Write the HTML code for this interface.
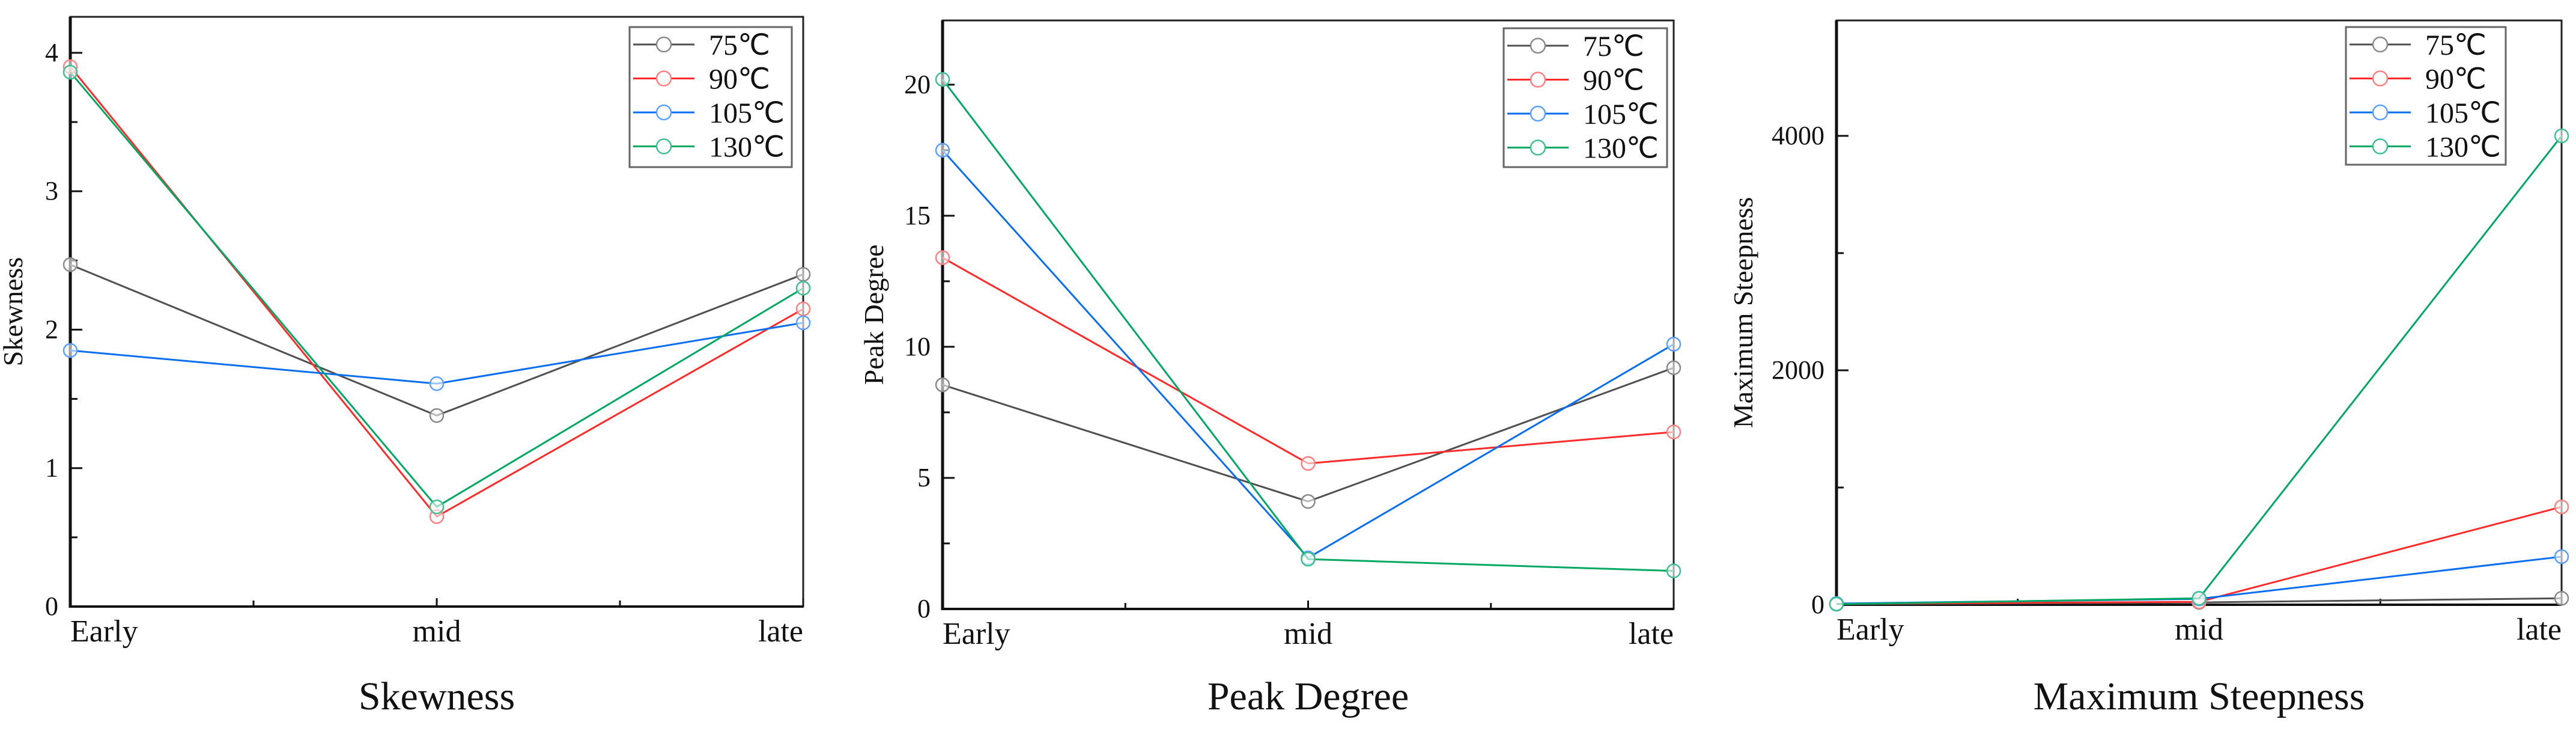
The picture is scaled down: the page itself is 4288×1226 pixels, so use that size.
<!DOCTYPE html>
<html><head><meta charset="utf-8">
<style>
html,body{margin:0;padding:0;background:#fff;}
svg{display:block;}
text{font-family:"Liberation Serif",serif;fill:#111;}
</style></head>
<body>
<svg id="fig" width="4288" height="1226" viewBox="0 0 4288 1226" xmlns="http://www.w3.org/2000/svg"></svg>
<script>
const categories = ["Early","mid","late"];
const seriesNames = ["75℃","90℃","105℃","130℃"];
const skew75 = [2.47, 1.38, 2.40];
const skew90 = [3.90, 0.65, 2.15];
const skew105 = [1.85, 1.61, 2.05];
const skew130 = [3.86, 0.72, 2.30];
const peak75 = [8.55, 4.1, 9.2];
const peak90 = [13.4, 5.55, 6.75];
const peak105 = [17.5, 1.95, 10.1];
const peak130 = [20.2, 1.9, 1.45];
const steep75 = [5, 20, 55];
const steep90 = [8, 25, 835];
const steep105 = [10, 50, 410];
const steep130 = [5, 55, 4000];
const skewTicks = [0,1,2,3,4];
const peakTicks = [0,5,10,15,20];
const steepTicks = [0,2000,4000];

const colors = ["#505050","#ff2a2a","#0a6ef0","#00a862"];
const markerColors = ["#8a8a8a","#ff8080","#5aa0ff","#40c090"];
const NS = "http://www.w3.org/2000/svg";
const svg = document.getElementById("fig");
function el(tag, attrs, parent){
  const e = document.createElementNS(NS, tag);
  for (const k in attrs) e.setAttribute(k, attrs[k]);
  (parent||svg).appendChild(e);
  return e;
}
const charts = [
  {key:"skewness", title:"Skewness", ytitle:"Skewness", L:117, R:1337, T:28, B:1009, ymax:4.26, ticks:skewTicks, minor:0.5, tOff:80,
   series:[skew75,skew90,skew105,skew130], leg:{x:1048,y:45,w:270,h:233}},
  {key:"peak-degree", title:"Peak Degree", ytitle:"Peak Degree", L:1569, R:2786, T:34, B:1013, ymax:22.45, ticks:peakTicks, minor:2.5, tOff:99,
   series:[peak75,peak90,peak105,peak130], leg:{x:2503,y:47,w:272,h:231}},
  {key:"maximum-steepness", title:"Maximum Steepness", ytitle:"Maximum Steepness", L:3057, R:4264, T:34, B:1006, ymax:4985, ticks:steepTicks, minor:1000, tOff:140,
   series:[steep75,steep90,steep105,steep130], leg:{x:3905,y:45,w:266,h:229}}
];
charts.forEach(c=>{
  const g = el("g",{});
  
  
  const xs = i => c.L + (c.R-c.L)*i/(categories.length-1);
  const ys = v => c.B - (c.B-c.T)*v/c.ymax;
  const fr = el("rect",{x:c.L,y:c.T,width:c.R-c.L,height:c.B-c.T,fill:"none",stroke:"#222","stroke-width":3},g);
  
  
  el("line",{x1:c.L,y1:c.T,x2:c.L,y2:c.B+2,stroke:"#111","stroke-width":5},g);
  el("line",{x1:c.L-2,y1:c.B,x2:c.R,y2:c.B,stroke:"#111","stroke-width":4},g);
  for (let v=0; v<=c.ymax+1e-9; v+=c.minor){
    const major = c.ticks.some(t=>Math.abs(t-v)<1e-9);
    el("line",{x1:c.L,y1:ys(v),x2:c.L+(major?20:12),y2:ys(v),stroke:"#111","stroke-width":3},g);
  }
  c.ticks.forEach(t=>{
    const tx = el("text",{x:c.L-20,y:ys(t)+14,"text-anchor":"end","font-size":44},g);
    tx.textContent = t;
    
    
  });
  for (let i=0;i<categories.length;i++){
    el("line",{x1:xs(i),y1:c.B,x2:xs(i),y2:c.B-14,stroke:"#111","stroke-width":3},g);
    if (i<categories.length-1){
      const mx=(xs(i)+xs(i+1))/2;
      el("line",{x1:mx,y1:c.B,x2:mx,y2:c.B-10,stroke:"#111","stroke-width":3},g);
    }
    const anchor = i===0?"start":(i===categories.length-1?"end":"middle");
    const lx = el("text",{x:xs(i),y:c.B+58,"text-anchor":anchor,"font-size":52},g);
    lx.textContent = categories[i];
    
    
  }
  const cy = (c.T+c.B)/2;
  const yt = el("text",{x:0,y:0,"text-anchor":"middle","font-size":46,transform:`translate(${c.L-c.tOff},${cy}) rotate(-90)`},g);
  yt.textContent = c.ytitle;
  
  
  const cap = el("text",{x:(c.L+c.R)/2,y:1180,"text-anchor":"middle","font-size":66},g);
  cap.textContent = c.title;
  
  
  c.series.forEach((arr,si)=>{
    const pts = arr.map((v,i)=>xs(i)+","+ys(v)).join(" ");
    const pl = el("polyline",{points:pts,fill:"none",stroke:colors[si],"stroke-width":3},g);
    
    
    arr.forEach((v,i)=>{
      const m = el("circle",{cx:xs(i),cy:ys(v),r:11,fill:"#fff","fill-opacity":0.6,stroke:markerColors[si],"stroke-width":2.5},g);
      
      
    });
  });
  const lg = el("g",{},g);
  
  
  el("rect",{x:c.leg.x,y:c.leg.y,width:c.leg.w,height:c.leg.h,fill:"#fff",stroke:"#666","stroke-width":3},lg);
  seriesNames.forEach((n,si)=>{
    const ry = c.leg.y + 29 + si*56.5;
    const ent = el("g",{},lg);
    
    
    el("line",{x1:c.leg.x+6,y1:ry,x2:c.leg.x+108,y2:ry,stroke:colors[si],"stroke-width":3},ent);
    el("circle",{cx:c.leg.x+57,cy:ry,r:12,fill:"#fff",stroke:markerColors[si],"stroke-width":2.5},ent);
    const t = el("text",{x:c.leg.x+132,y:ry+17,"font-size":48},ent);
    t.textContent = n;
  });
});
</script>
</body></html>
